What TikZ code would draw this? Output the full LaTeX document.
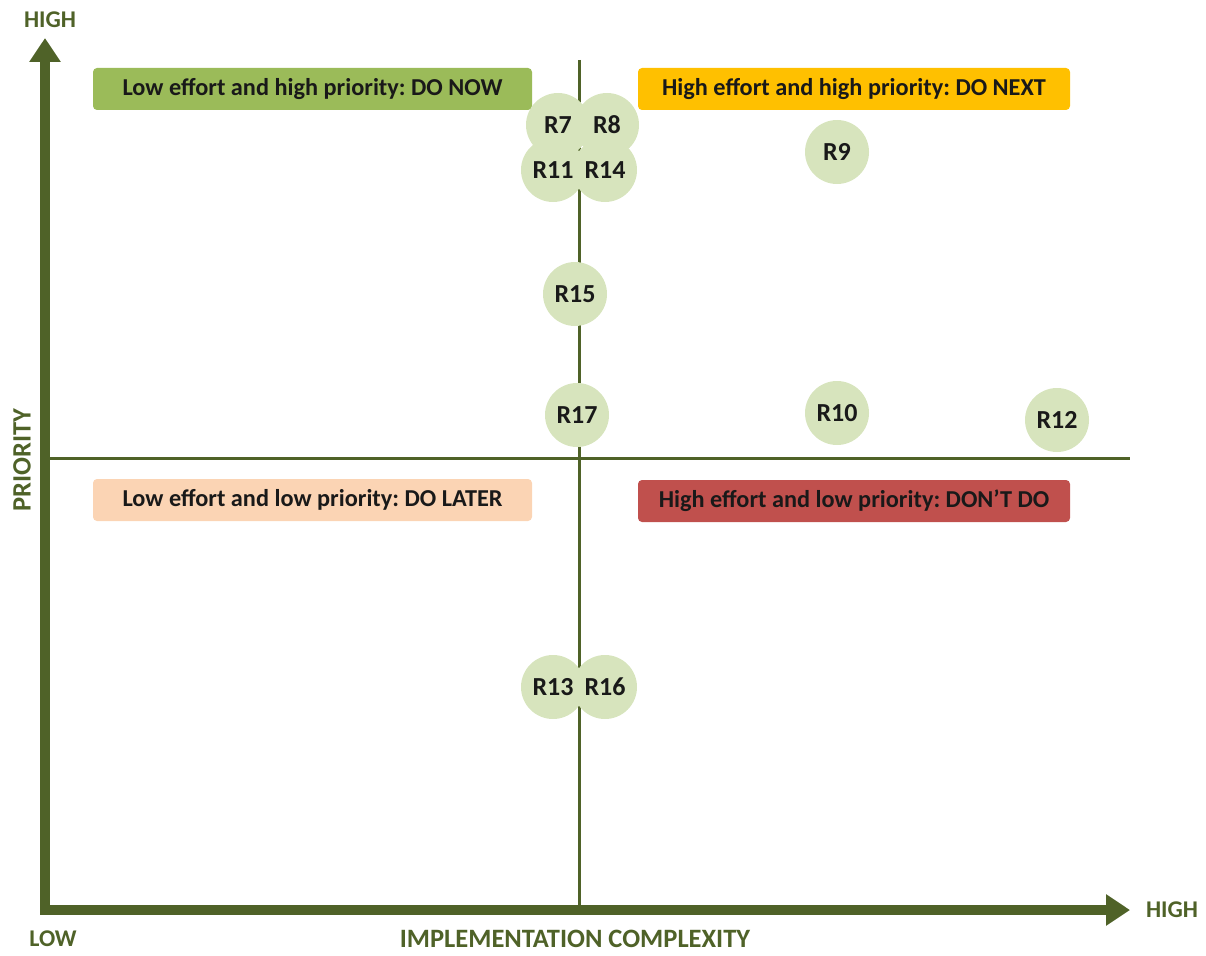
\documentclass[tikz,border=0pt]{standalone}
\usepackage{fontspec}
\setmainfont{Carlito}
\frenchspacing
\usetikzlibrary{arrows.meta}
\definecolor{axisgreen}{HTML}{4F6228}
\definecolor{nowgreen}{HTML}{9BBB59}
\definecolor{nextorange}{HTML}{FFC000}
\definecolor{laterpeach}{HTML}{FBD4B4}
\definecolor{dontred}{HTML}{C0504D}
\definecolor{bubble}{HTML}{D7E4BD}
\tikzset{
  quadbox/.style={rounded corners=4pt, minimum height=42pt,
    font=\fontsize{24.3}{25}\selectfont\bfseries, text=black!90},
  leftbox/.style={quadbox, minimum width=439pt},
  rightbox/.style={quadbox, minimum width=432pt},
  req/.style={circle, fill=bubble, minimum size=64pt, inner sep=0pt,
    font=\fontsize{26}{26}\selectfont\bfseries, text=black!90},
  axislabel/.style={text=axisgreen, font=\fontsize{24}{24}\selectfont\bfseries},
  axistitle/.style={text=axisgreen, font=\fontsize{26.5}{27}\selectfont\bfseries},
  mainaxis/.style={line width=10pt, color=axisgreen,
    -{Triangle[length=24pt, width=30pt]}},
  divider/.style={line width=3pt, color=axisgreen}
}
\begin{document}
\begin{tikzpicture}[x=1pt, y=-1pt]
  \useasboundingbox (0,0) rectangle (1206,955);

  % quadrant dividers
  \coordinate (vtop) at (579,60);
  \coordinate (vbot) at (579,910);
  \coordinate (hleft) at (45,458);
  \coordinate (hright) at (1130,458);
  \draw[divider] (vtop) -- (vbot);
  \draw[divider] (hleft) -- (hright);

  % axes
  \coordinate (origin) at (45,910);
  \coordinate (ytip) at (45,38);
  \coordinate (xtip) at (1130,910);
  \draw[mainaxis] ([yshift=5pt]origin) -- (ytip);
  \draw[mainaxis] ([xshift=-5pt]origin) -- (xtip);

  % axis labels
  \node[axislabel] (yhigh) at (50,20) {HIGH};
  \node[axislabel] (xhigh) at (1172,910) {HIGH};
  \node[axislabel] (low) at (53,939) {LOW};
  \node[axistitle] (xtitle) at (575,939) {IMPLEMENTATION COMPLEXITY};
  \node[axistitle, rotate=90] (ytitle) at (22,460) {PRIORITY};

  % quadrant labels
  \node[leftbox, fill=nowgreen] (donow) at (312.5,89) {Low effort and high priority: DO NOW};
  \node[rightbox, fill=nextorange] (donext) at (854,89) {High effort and high priority: DO NEXT};
  \node[leftbox, fill=laterpeach] (dolater) at (312.5,500) {Low effort and low priority: DO LATER};
  \node[rightbox, fill=dontred] (dontdo) at (854,501) {High effort and low priority: DON’T DO};

  % requirements
  \node[req] (r7) at (558,125) {R7};
  \node[req] (r8) at (607,125) {R8};
  \node[req] (r11) at (553,170) {R11};
  \node[req] (r14) at (605,170) {R14};
  \node[req] (r9) at (837,152) {R9};
  \node[req] (r15) at (575,294) {R15};
  \node[req] (r17) at (577,415) {R17};
  \node[req] (r10) at (837,413) {R10};
  \node[req] (r12) at (1057,420) {R12};
  \node[req] (r13) at (553,687) {R13};
  \node[req] (r16) at (605,687) {R16};
\end{tikzpicture}
\end{document}
